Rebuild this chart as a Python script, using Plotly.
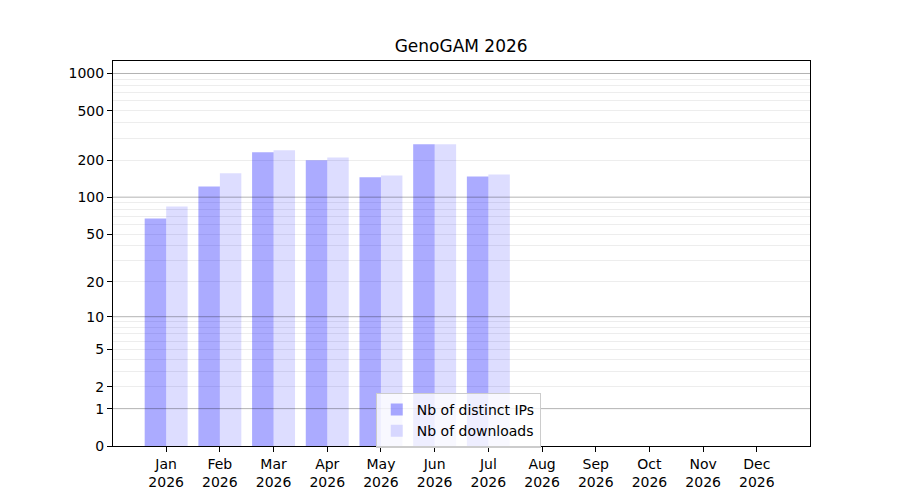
import numpy as np
import plotly.graph_objects as go

months = ["Jan", "Feb", "Mar", "Apr", "May", "Jun", "Jul", "Aug", "Sep", "Oct", "Nov", "Dec"]
year = "2026"
distinct_ips = [67, 122, 231, 199, 145, 268, 147, 0, 0, 0, 0, 0]
downloads = [84, 156, 240, 210, 150, 268, 153, 0, 0, 0, 0, 0]
ytick_labels = [0, 1, 2, 5, 10, 20, 50, 100, 200, 500, 1000]
major_grid = [1, 10, 100, 1000]
minor_grid = [m * d for d in (1, 10, 100) for m in range(2, 10)]


def tr(v):
    return np.log10(1 + np.asarray(v, dtype=float))


x = np.arange(len(months))
font = "DejaVu Sans, Liberation Sans, sans-serif"

fig = go.Figure()
fig.add_trace(go.Bar(
    x=x, y=tr(distinct_ips), name="Nb of distinct IPs",
    offset=-0.4, width=0.4, marker=dict(color="rgba(0,0,255,0.33)", line=dict(width=0)),
))
fig.add_trace(go.Bar(
    x=x, y=tr(downloads), name="Nb of downloads",
    offset=0.0, width=0.4, marker=dict(color="rgba(0,0,255,0.135)", line=dict(width=0)),
))

for g in major_grid:
    fig.add_shape(type="line", xref="paper", x0=0, x1=1, yref="y", y0=float(tr(g)), y1=float(tr(g)),
                  line=dict(color="rgba(0,0,0,0.3)", width=1), layer="above")

fig.update_layout(
    width=900, height=500,
    margin=dict(l=105, r=98, t=53, b=62),
    paper_bgcolor="white", plot_bgcolor="white",
    barmode="overlay",
    font=dict(family=font, size=14, color="#000000"),
    title=dict(text="GenoGAM " + year, x=0.5035, xanchor="center", y=0.923, yanchor="middle",
               font=dict(size=17, color="#000000")),
    showlegend=True,
    legend=dict(x=0.377, y=0.138, xanchor="left", yanchor="top",
                bgcolor="rgba(255,255,255,0.8)", bordercolor="#cccccc", borderwidth=1,
                font=dict(size=14), tracegroupgap=2, itemwidth=30),
    xaxis=dict(
        range=[-0.99, 11.99], tickmode="array", tickvals=list(x),
        ticktext=[f"{m}<br>{year}" for m in months],
        ticks="outside", ticklen=5, tickcolor="black", tickwidth=1,
        showline=True, linecolor="black", linewidth=1, mirror=True,
        showgrid=False, zeroline=False,
    ),
    yaxis=dict(
        range=[0, 3.101], tickmode="array", tickvals=list(tr(ytick_labels)),
        ticktext=[str(v) for v in ytick_labels],
        ticks="outside", ticklen=5, tickcolor="black", tickwidth=1,
        showline=True, linecolor="black", linewidth=1, mirror=True,
        showgrid=False, zeroline=False,
        minor=dict(tickmode="array", tickvals=list(tr(minor_grid)), showgrid=True,
                   gridcolor="rgba(0,0,0,0.07)", gridwidth=1, ticks=""),
    ),
)

fig.write_html("out.html")
